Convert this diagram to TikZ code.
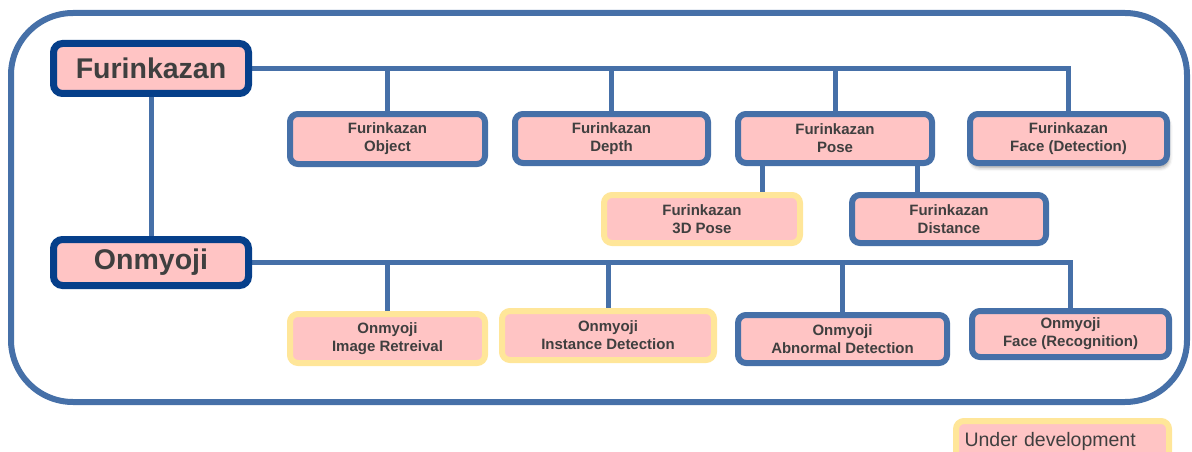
\documentclass[tikz,border=0pt]{standalone}
\usepackage{fontspec}
\setmainfont{Liberation Sans}
\usetikzlibrary{backgrounds,shadows.blur}
\definecolor{frameblue}{HTML}{4670A8}
\definecolor{navy}{HTML}{063F8A}
\definecolor{boxpink}{HTML}{FFC4C4}
\definecolor{devyellow}{HTML}{FFE699}
\definecolor{txt}{HTML}{3F3F3F}
\tikzset{
  bigbox/.style={draw=navy, line width=7pt, fill=boxpink, rounded corners=9pt,
    text=txt, font=\fontsize{28.5}{30}\selectfont\bfseries, inner sep=0pt},
  smallbox/.style={draw=frameblue, line width=6pt, fill=boxpink, rounded corners=8pt,
    text=txt, font=\fontsize{15}{18}\selectfont\bfseries, align=center, inner sep=0pt},
  devbox/.style={smallbox, draw=devyellow},
  conn/.style={draw=frameblue, line width=5pt},
}
\begin{document}
\begin{tikzpicture}[x=1pt,y=-1pt]
\useasboundingbox (0,0) rectangle (1192,452);
% outer frame
\draw[frameblue, line width=6pt, rounded corners=62pt] (11,13) rectangle (1187,402);
% main nodes
\node[bigbox, minimum width=195pt, minimum height=50pt] (F) at (151,68.5) {Furinkazan};
\node[bigbox, minimum width=195pt, minimum height=46pt] (O) at (151,262.5) {Onmyoji};
% Furinkazan children
\node[smallbox, minimum width=195pt, minimum height=50pt] (obj) at (387.5,139) {Furinkazan\\Object};
\node[smallbox, minimum width=193pt, minimum height=49pt] (depth) at (611.5,138.5) {Furinkazan\\Depth};
\node[smallbox, minimum width=194pt, minimum height=49pt] (pose) at (835,138.5) {Furinkazan\\Pose};
\node[smallbox, minimum width=197pt, minimum height=49pt,
  blur shadow={shadow xshift=1.5pt, shadow yshift=-4pt, shadow blur radius=4pt, shadow opacity=45}] (faceD) at (1068.5,138.5) {Furinkazan\\Face (Detection)};
\node[devbox, minimum width=196pt, minimum height=48pt] (p3d) at (702,219) {Furinkazan\\3D Pose};
\node[smallbox, minimum width=194pt, minimum height=48pt] (dist) at (949,219) {Furinkazan\\Distance};
% Onmyoji children
\node[devbox, minimum width=195pt, minimum height=49pt] (imr) at (387.5,338.5) {Onmyoji\\Image Retreival};
\node[devbox, minimum width=212pt, minimum height=49pt] (inst) at (608,335.5) {Onmyoji\\Instance Detection};
\node[smallbox, minimum width=209pt, minimum height=48pt] (abn) at (842.5,339) {Onmyoji\\Abnormal Detection};
\node[smallbox, minimum width=197pt, minimum height=46pt] (faceR) at (1070.5,334) {Onmyoji\\Face (Recognition)};
% legend
\node[devbox, minimum width=213pt, minimum height=40pt, text width=196pt, align=left,
  font=\fontsize{19.5}{21}\selectfont] (leg) at (1062.5,441) {Under development};
% connectors
\coordinate (a3d) at (762,0);
\coordinate (adist) at (917,0);
\begin{scope}[on background layer]
\draw[conn] (F.south) -- (O.north);
\draw[conn] (F.east) -| (faceD.north);
\draw[conn] (obj.north) -- (obj.north |- F.east);
\draw[conn] (depth.north) -- (depth.north |- F.east);
\draw[conn] (pose.north) -- (pose.north |- F.east);
\draw[conn] (pose.south -| a3d) -- (p3d.north -| a3d);
\draw[conn] (pose.south -| adist) -- (dist.north -| adist);
\draw[conn] (O.east) -| (faceR.north);
\draw[conn] (imr.north) -- (imr.north |- O.east);
\draw[conn] (inst.north) -- (inst.north |- O.east);
\draw[conn] (abn.north) -- (abn.north |- O.east);
\end{scope}
\end{tikzpicture}
\end{document}
